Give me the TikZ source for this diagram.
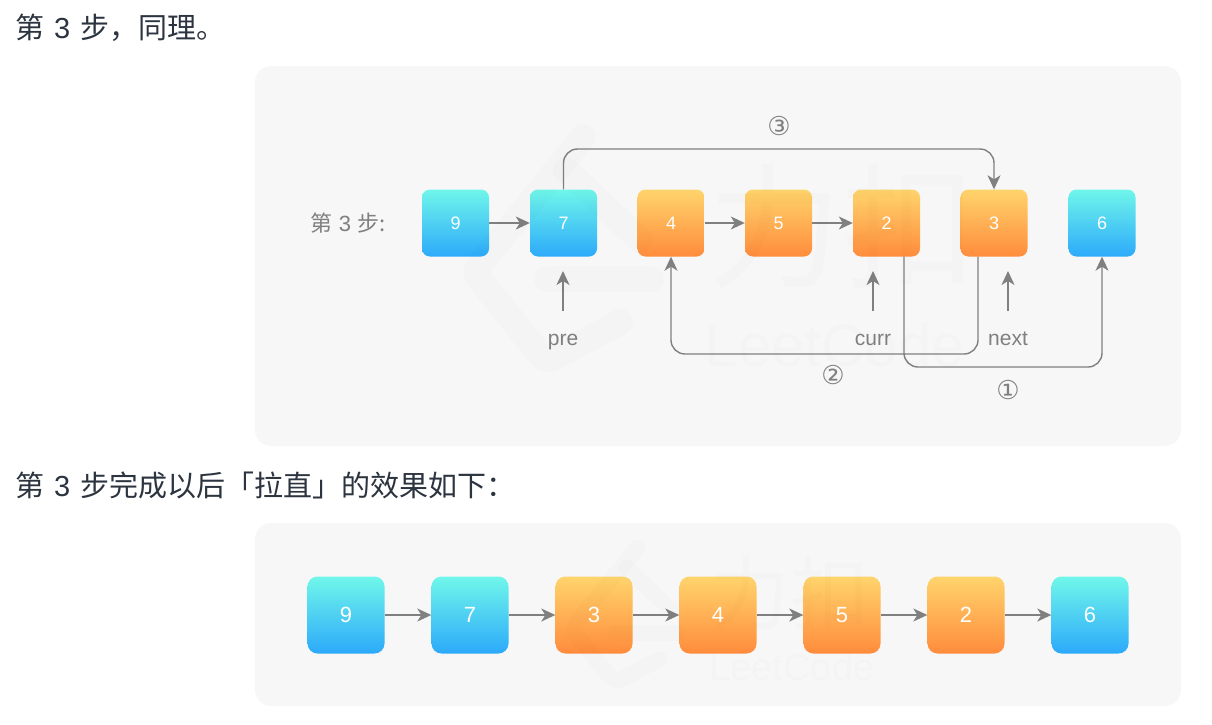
\documentclass[tikz,border=0pt]{standalone}
\usepackage{fontspec}
\setmainfont{Liberation Sans}
\newfontfamily\cjk{Noto Sans CJK SC}
\newfontfamily\symb{DejaVu Sans}
\usetikzlibrary{arrows.meta}
\definecolor{panelgray}{RGB}{247, 247, 247}
\definecolor{linkgray}{RGB}{128, 128, 128}
\definecolor{textdark}{RGB}{44, 52, 64}
\definecolor{bluetop}{RGB}{112, 246, 234}
\definecolor{bluebottom}{RGB}{44, 170, 250}
\definecolor{orangetop}{RGB}{255, 212, 108}
\definecolor{orangebottom}{RGB}{255, 140, 60}

\begin{document}
\begin{tikzpicture}[x=1pt,y=-1pt]

\tikzstyle{panel} = [fill=panelgray,rounded corners=16pt]
\tikzstyle{heading} = [anchor=west,inner sep=0,text=textdark,font=\fontsize{29}{29}\selectfont]
\tikzstyle{bluebox} = [rectangle,rounded corners=8pt,minimum size=67pt,inner sep=0,
    top color=bluetop,bottom color=bluebottom,text=white,font=\fontsize{18}{18}\selectfont]
\tikzstyle{orangebox} = [bluebox,top color=orangetop,bottom color=orangebottom]
\tikzstyle{bigblue} = [bluebox,minimum size=77pt,rounded corners=10pt,font=\fontsize{22}{22}\selectfont]
\tikzstyle{bigorange} = [orangebox,minimum size=77pt,rounded corners=10pt,font=\fontsize{22}{22}\selectfont]
\tikzstyle{link} = [-{Stealth[length=14pt,width=13pt,inset=4pt]},draw=linkgray,line width=1.4pt,rounded corners=14pt]
\tikzstyle{pointer} = [text=linkgray,minimum height=54pt,inner sep=0,text height=14pt,text depth=0pt,font=\fontsize{21}{21}\selectfont]
\tikzstyle{stepmark} = [text=linkgray,inner sep=0,font=\symb\fontsize{26}{26}\selectfont]
\tikzstyle{water} = [draw=black,draw opacity=0.012,line cap=round,line join=round,rounded corners=8pt]
\tikzstyle{watertext} = [text=black,text opacity=0.012,inner sep=0]

\useasboundingbox (0,0) rectangle (1212,724);

% =========================
% panels and headings
% =========================
\fill[panel] (255,66) rectangle (1181,446);
\fill[panel] (255,523) rectangle (1181,706);
\node[heading] (title1) at (15,28) {{\cjk 第}\hspace{10pt}3\hspace{10pt}{\cjk 步，同理。}};
\node[heading] (title2) at (15,485) {{\cjk 第}\hspace{10pt}3\hspace{10pt}{\cjk 步完成以后「拉直」的效果如下：}};

% =========================
% step 3 - first row
% =========================
\node[text=linkgray,inner sep=0,font=\fontsize{22}{22}\selectfont] (steplabel) at (348,223) {{\cjk 第} 3 {\cjk 步:}};
\node[bluebox] (a9) at (455.5,223) {9};
\node[bluebox] (a7) at (563.5,223) {7};
\node[orangebox] (a4) at (671,223) {4};
\node[orangebox] (a5) at (778.5,223) {5};
\node[orangebox] (a2) at (886.5,223) {2};
\node[orangebox] (a3) at (994,223) {3};
\node[bluebox] (a6) at (1102,223) {6};

\draw[link] (a9) -- (a7);
\draw[link] (a4) -- (a5);
\draw[link] (a5) -- (a2);

% bent links
\draw[link] (a7.north) -- (563.5,149) -- (994,149) -- (a3.north);
\draw[link] ([xshift=-16pt]a3.south) -- (978,354) -- (671,354) -- (a4.south);
\draw[link] ([xshift=17.5pt]a2.south) -- (904,367) -- (1102,367) -- (a6.south);

\node[stepmark] (m3) at (779,126) {③};
\node[stepmark] (m2) at (833,375) {②};
\node[stepmark] (m1) at (1008,390) {①};

% =========================
% pointers
% =========================
\node[pointer] (pre) at (563,338) {pre};
\node[pointer] (curr) at (873,338) {curr};
\node[pointer] (next) at (1008,338) {next};
\coordinate (pretip) at (563,271);
\coordinate (currtip) at (873,271);
\coordinate (nexttip) at (1008,271);
\draw[link] (pre) -- (pretip);
\draw[link] (curr) -- (currtip);
\draw[link] (next) -- (nexttip);

% =========================
% straightened list
% =========================
\node[bigblue] (b9) at (346,615) {9};
\node[bigblue] (b7) at (470,615) {7};
\node[bigorange] (b3) at (594,615) {3};
\node[bigorange] (b4) at (718,615) {4};
\node[bigorange] (b5) at (842,615) {5};
\node[bigorange] (b2) at (966,615) {2};
\node[bigblue] (b6) at (1090,615) {6};

\draw[link] (b9) -- (b7);
\draw[link] (b7) -- (b3);
\draw[link] (b3) -- (b4);
\draw[link] (b4) -- (b5);
\draw[link] (b5) -- (b2);
\draw[link] (b2) -- (b6);

% =========================
% watermarks
% =========================
\draw[water,line width=26pt] (583,137) -- (474,272) -- (546,362) -- (620,322);
\draw[water,line width=26pt] (566,170) -- (640,240);
\draw[water,line width=26pt] (547,279) -- (651,279);
\node[watertext,font=\cjk\fontsize{135}{135}\selectfont] (wm1) at (842,226) {力扣};
\node[watertext,font=\fontsize{60}{60}\selectfont] (wm2) at (835,345) {LeetCode};

\draw[water,line width=16pt] (637,548) -- (571,629) -- (615,683) -- (659,659);
\draw[water,line width=16pt] (627,568) -- (671,610);
\draw[water,line width=16pt] (615,633) -- (677,633);
\node[watertext,font=\cjk\fontsize{80}{80}\selectfont] (wm3) at (790,593) {力扣};
\node[watertext,font=\fontsize{38}{38}\selectfont] (wm4) at (792,667) {LeetCode};

\end{tikzpicture}
\end{document}
